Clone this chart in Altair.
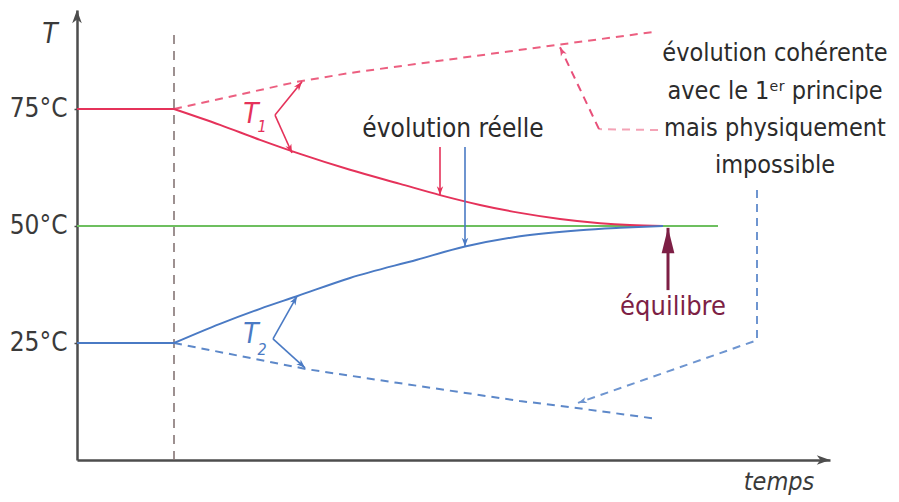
import math
import altair as alt
import pandas as pd

# ---------------- data ----------------
# time in arbitrary units, temperature in °C
t_initial = [0, 9.7]
T1_initial = [75, 75]
T2_initial = [25, 25]

t_T1_real = [9.7, 14.3, 18.3, 22.3, 27.3, 32.3, 36.3, 40.3, 44.3, 48.3, 52.3, 55.3, 58.6]
T1_real = [75, 71.6, 68.4, 65.4, 62.0, 59.0, 56.6, 54.5, 52.8, 51.5, 50.6, 50.2, 50.0]

t_T2_real = [9.7, 14.3, 18.3, 22.0, 27.3, 34.0, 38.8, 44.3, 50.3, 54.3, 58.6]
T2_real = [25, 29.1, 32.3, 35.0, 38.9, 42.8, 45.6, 47.8, 49.1, 49.6, 50]

t_T1_imp = [9.7, 22.0, 27.3, 46.3, 57.8]
T1_imp = [75, 80.8, 82.7, 88.2, 91.5]

t_T2_imp = [9.7, 23.0, 32.0, 44.3, 49.3, 57.6]
T2_imp = [25, 19.4, 16.5, 12.6, 11.3, 8.9]

t_equil = [0, 64.1]
T_equil = [50, 50]

t_contact = [9.7, 9.7]
T_contact = [0, 91.9]

# annotation arrows: tail (t0, T0) -> tip (t1, T1)
arrow_name = ["T1 up", "T1 down", "T2 up", "T2 down", "réelle rouge", "réelle bleue"]
arrow_t0 = [19.8, 19.8, 19.6, 19.6, 36.3, 38.8]
arrow_T0 = [73.7, 73.7, 25.9, 25.9, 66.9, 66.9]
arrow_t1 = [22.5, 21.5, 22.0, 22.8, 36.3, 38.8]
arrow_T1 = [80.8, 65.6, 35.0, 19.7, 56.6, 45.6]
arrow_col = ["#e5325a", "#e5325a", "#4a7ac4", "#4a7ac4", "#e5325a", "#4a7ac4"]

equil_arrow_t = [59.1, 59.1]
equil_arrow_T = [36.3, 49.6]

pink_path_t = [58.1, 52.2, 48.3]
pink_path_T = [70.5, 70.7, 88.2]
blue_path_t = [68.0, 68.0, 50.1]
blue_path_T = [57.7, 25.6, 12.2]

note_lines = ["évolution cohérente", "avec le 1ᵉʳ principe", "mais physiquement", "impossible"]
note_t = [69.8, 69.8, 69.8, 69.8]
note_T = [85.3, 77.2, 69.2, 61.3]

y_ticks = [25, 50, 75]

# ---------------- layout ----------------
PX_T = 10.0     # px per time unit
PX_C = 4.68     # px per °C
X_MAX = 75.3
Y_MAX = 96.15
W = round(X_MAX * PX_T)
H = round(Y_MAX * PX_C)

FONT = "DejaVu Sans Condensed"
RED = "#e5325a"
BLUE = "#4a7ac4"
GREEN = "#6dbf5f"
MAROON = "#7d1f45"
AXIS = "#4d4d4d"
TXT = "#2b2b2b"

xs = alt.Scale(domain=[0, X_MAX], nice=False, zero=False)
ys = alt.Scale(domain=[0, Y_MAX], nice=False, zero=False)
x_axis = alt.Axis(labels=False, ticks=False, grid=False, domainColor=AXIS,
                  domainWidth=2.5, title=None)
y_axis = alt.Axis(values=y_ticks, labelExpr="datum.value + '°C'", labelFont=FONT,
                  labelFontSize=26, labelColor="#3a3a3a", labelPadding=7,
                  ticks=True, tickSize=3, tickWidth=1.5, tickColor=AXIS,
                  grid=False, domainColor=AXIS, domainWidth=2.5, title=None)


def X(f):
    return alt.X(f"{f}:Q", scale=xs, axis=x_axis, title=None)


def Y(f):
    return alt.Y(f"{f}:Q", scale=ys, axis=y_axis, title=None)


def path_layer(ts, Ts, color, width, dash=None, interp="linear"):
    df = pd.DataFrame({"t": ts, "T": Ts, "i": list(range(len(ts)))})
    kw = dict(color=color, strokeWidth=width, strokeCap="butt", interpolate=interp)
    if dash:
        kw["strokeDash"] = dash
    return alt.Chart(df).mark_line(**kw).encode(x=X("t"), y=Y("T"), order="i:Q")


def heading(t0, T0, t1, T1):
    dx = (t1 - t0) * PX_T
    dy = -(T1 - T0) * PX_C
    return math.degrees(math.atan2(dx, -dy)) % 360


STEALTH = "M0,0L-0.8,2.2L0,1.6L0.8,2.2Z"
SLIM = "M0,0L-0.5,2L0.5,2Z"


def head_layer(ts, Ts, angles, colors, shape, size):
    df = pd.DataFrame({"t": ts, "T": Ts, "a": angles, "c": colors})
    return alt.Chart(df).mark_point(shape=shape, size=size, filled=True, opacity=1,
                                    strokeWidth=0).encode(
        x=X("t"), y=Y("T"), angle=alt.Angle("a:Q", scale=None),
        color=alt.Color("c:N", scale=None))


def text_layer(ts, Ts, labels, **style):
    df = pd.DataFrame({"t": ts, "T": Ts, "label": labels})
    return alt.Chart(df).mark_text(**style).encode(x=X("t"), y=Y("T"), text="label:N")


layers = []

# main curves
layers.append(path_layer(t_contact, T_contact, "#857575", 1.6, [9, 7]))
layers.append(path_layer(t_equil, T_equil, GREEN, 2))
layers.append(path_layer(t_initial, T1_initial, RED, 2))
layers.append(path_layer(t_initial, T2_initial, BLUE, 2))
layers.append(path_layer(t_T1_imp, T1_imp, "#ec5f80", 2, [8, 6]))
layers.append(path_layer(t_T2_imp, T2_imp, "#5d88c9", 2, [8, 6]))
layers.append(path_layer(t_T1_real, T1_real, RED, 2, interp="monotone"))
layers.append(path_layer(t_T2_real, T2_real, BLUE, 2, interp="monotone"))

# annotation arrows (straight)
arr = pd.DataFrame({"name": arrow_name, "t0": arrow_t0, "T0": arrow_T0,
                    "t1": arrow_t1, "T1": arrow_T1, "c": arrow_col})
layers.append(alt.Chart(arr).mark_rule(strokeWidth=1.6).encode(
    x=X("t0"), y=Y("T0"), x2="t1:Q", y2="T1:Q", color=alt.Color("c:N", scale=None)))
layers.append(head_layer(arrow_t1, arrow_T1,
                         [heading(a, b, c, d) for a, b, c, d in zip(arrow_t0, arrow_T0, arrow_t1, arrow_T1)],
                         arrow_col, STEALTH, 64))

# équilibre arrow
layers.append(path_layer(equil_arrow_t, equil_arrow_T, MAROON, 3))
layers.append(head_layer([equil_arrow_t[1]], [equil_arrow_T[1]],
                         [heading(equil_arrow_t[0], equil_arrow_T[0], equil_arrow_t[1], equil_arrow_T[1])],
                         [MAROON], SLIM, 650))

# dashed pointers to the note
layers.append(path_layer(pink_path_t[:2], pink_path_T[:2], "#f4a3b6", 2, [8, 6]))
layers.append(path_layer(pink_path_t[1:], pink_path_T[1:], "#e8507a", 2, [8, 6]))
layers.append(path_layer(blue_path_t, blue_path_T, "#6e95d0", 2, [8, 6]))
layers.append(head_layer([pink_path_t[2], blue_path_t[2]], [pink_path_T[2], blue_path_T[2]],
                         [heading(pink_path_t[1], pink_path_T[1], pink_path_t[2], pink_path_T[2]),
                          heading(blue_path_t[1], blue_path_T[1], blue_path_t[2], blue_path_T[2])],
                         ["#e8507a", "#6e95d0"], STEALTH, 64))

# axis arrowheads
layers.append(head_layer([0, X_MAX], [Y_MAX, 0], [0, 90], [AXIS, AXIS], STEALTH, 144))

# texts
layers.append(text_layer(note_t, note_T, note_lines, font=FONT, fontSize=25, color=TXT,
                         align="center", baseline="alphabetic"))
layers.append(text_layer([37.6], [69.0], ["évolution réelle"], font=FONT, fontSize=26,
                         color=TXT, align="center", baseline="alphabetic"))
layers.append(text_layer([59.6], [31.0], ["équilibre"], font=FONT, fontSize=27,
                         color=MAROON, align="center", baseline="alphabetic"))
layers.append(text_layer([-2.7], [89.1], ["T"], font=FONT, fontSize=28, fontStyle="italic",
                         color="#3a3a3a", align="center", baseline="alphabetic"))
layers.append(text_layer([70.2], [-6.4], ["temps"], font=FONT, fontSize=25, fontStyle="italic",
                         color="#3a3a3a", align="center", baseline="alphabetic"))
layers.append(text_layer([17.4, 17.4], [72.0, 25.0], ["T", "T"], font=FONT, fontSize=28,
                         fontStyle="italic", align="center", baseline="alphabetic").encode(
    color=alt.Color("c:N", scale=None)).transform_calculate(
    c="datum.T > 50 ? '" + RED + "' : '" + BLUE + "'"))
layers.append(text_layer([18.5, 18.5], [70.1, 22.4], ["1", "2"], font=FONT, fontSize=16,
                         fontStyle="italic", align="center", baseline="alphabetic").encode(
    color=alt.Color("c:N", scale=None)).transform_calculate(
    c="datum.T > 50 ? '" + RED + "' : '" + BLUE + "'"))

chart = alt.layer(*layers).properties(
    width=W, height=H,
    padding={"left": 69, "top": 2, "right": 61, "bottom": 40},
    autosize=alt.AutoSizeParams(type="none"),
    background="white",
).configure_view(stroke=None)

chart.save("out.html", embed_options={"renderer": "svg", "actions": False})
